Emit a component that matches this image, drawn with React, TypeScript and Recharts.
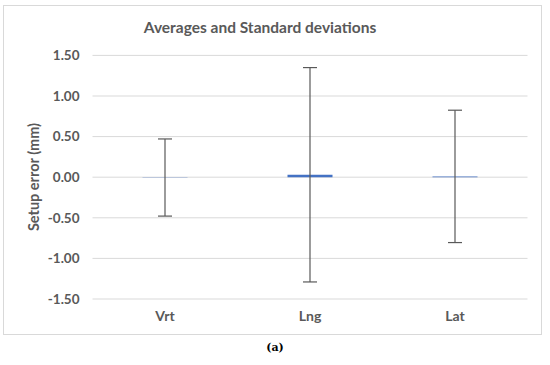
import React from "react";
import { BarChart, Bar, XAxis, YAxis, CartesianGrid, ErrorBar } from "recharts";

const categories = ["Vrt", "Lng", "Lat"];
const averages = [-0.004, 0.03, 0.01];
const stdDevs = [0.475, 1.32, 0.815];
const yTicks = [-1.5, -1.0, -0.5, 0, 0.5, 1.0, 1.5];

const data = categories.map((c, i) => ({ name: c, avg: averages[i], sd: stdDevs[i] }));

const FONT = "Lato, 'Open Sans', sans-serif";
const GRAY = "#595959";

export default function App() {
  return (
    <div style={{ position: "absolute", left: 0, top: 0, width: 550, height: 365, background: "#fff", overflow: "hidden" }}>
      <div
        style={{
          position: "absolute",
          left: 3,
          top: 5,
          width: 539,
          height: 330,
          border: "1px solid #D9D9D9",
          boxSizing: "border-box",
        }}
      />
      <div
        style={{
          position: "absolute",
          left: 0,
          width: 520,
          top: 17,
          textAlign: "center",
          fontFamily: FONT,
          fontWeight: 700,
          fontSize: 15.5,
          color: GRAY,
          lineHeight: "20px",
        }}
      >
        Averages and Standard deviations
      </div>
      <div
        style={{
          position: "absolute",
          left: 33,
          top: 177,
          transform: "translate(-50%, -50%) rotate(-90deg)",
          fontFamily: FONT,
          fontWeight: 700,
          fontSize: 14.5,
          color: GRAY,
          whiteSpace: "nowrap",
        }}
      >
        Setup error (mm)
      </div>
      <div
        style={{
          position: "absolute",
          left: 0,
          width: 550,
          top: 341,
          textAlign: "center",
          fontFamily: "'DejaVu Serif', 'Liberation Serif', serif",
          fontWeight: 700,
          fontSize: 11,
          color: "#000",
        }}
      >
        (a)
      </div>
      <BarChart
        width={550}
        height={365}
        data={data}
        margin={{ top: 55.4, right: 22.5, bottom: 36, left: 10 }}
        style={{ position: "absolute", left: 0, top: 0 }}
      >
        <CartesianGrid vertical={false} stroke="#D9D9D9" strokeWidth={1} />
        <XAxis
          dataKey="name"
          axisLine={false}
          tickLine={false}
          tickSize={0}
          tickMargin={12}
          height={30}
          tick={{ fill: GRAY, fontFamily: FONT, fontWeight: 700, fontSize: 14 }}
        />
        <YAxis
          domain={[-1.5, 1.5]}
          ticks={yTicks}
          interval={0}
          axisLine={false}
          tickLine={false}
          tickSize={0}
          tickMargin={13}
          width={82.5}
          tickFormatter={(v: number) => v.toFixed(2)}
          tick={{ fill: GRAY, fontFamily: FONT, fontWeight: 700, fontSize: 13.5 }}
        />
        <Bar dataKey="avg" fill="#4472C4" barSize={45} isAnimationActive={false}>
          <ErrorBar dataKey="sd" direction="y" stroke={GRAY} strokeWidth={1.2} width={7} />
        </Bar>
      </BarChart>
    </div>
  );
}
